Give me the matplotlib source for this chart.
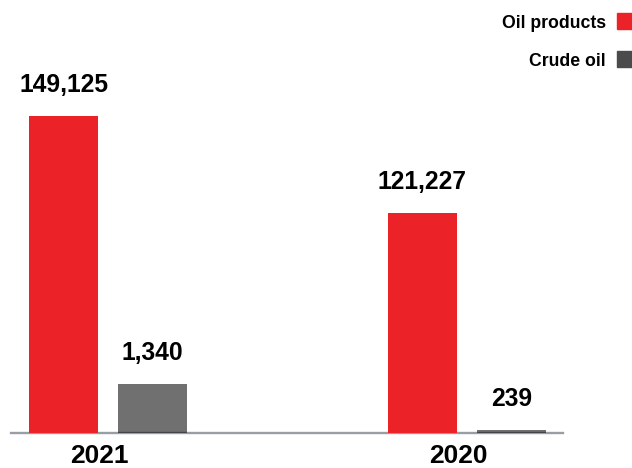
import matplotlib
matplotlib.use("Agg")
import matplotlib.pyplot as plt
from matplotlib.patches import Rectangle
import numpy as np

# Data
years = ["2021", "2020"]
oil_products = [149125, 121227]
crude_oil = [1340, 239]
series_names = ["Oil products", "Crude oil"]

RED = "#ec2229"
GREY_BAR = (0, 0, 0, 0.56)
GREY_KEY = "#4b4b4b"
AXIS_GREY = "#9b9da5"
FONT = "Liberation Sans"

plt.rcParams["font.family"] = [FONT, "DejaVu Sans"]

W, H = 632, 468
fig = plt.figure(figsize=(W / 100, H / 100), dpi=100)

ax_left, ax_right = 11 / W, 562.7 / W
ax_bottom = (H - 433) / H
ax = fig.add_axes([ax_left, ax_bottom, ax_right - ax_left, 1 - ax_bottom])
ax2 = ax.twinx()

x = np.arange(len(years))
bw = 0.1924
off = 0.124

# Oil products on the primary scale, crude oil on its own scale
ax.bar(x - off, oil_products, width=bw, color=RED, zorder=3)
ax2.bar(x + off, crude_oil, width=bw, color=GREY_BAR, zorder=3)

ax.set_xlim(-0.2713, 1.2672)
ax.set_ylim(57700, 182600)
ax2.set_ylim(167, 10530)

val_style = dict(ha="center", va="baseline", fontsize=17.7, fontweight="bold",
                 textcoords="offset points", xytext=(0, 17))
for xi, v in zip(x, oil_products):
    ax.annotate(f"{v:,}", (xi - off, v), **val_style)
for xi, v in zip(x, crude_oil):
    ax2.annotate(f"{v:,}", (xi + off, v), **val_style)

# Axes styling
for a in (ax, ax2):
    for s in ("top", "left", "right"):
        a.spines[s].set_visible(False)
    a.set_yticks([])
ax2.spines["bottom"].set_visible(False)
ax.spines["bottom"].set_color(AXIS_GREY)
ax.spines["bottom"].set_linewidth(1.7)
ax.set_xticks(x - 0.025)
ax.set_xticklabels(years, fontsize=19, fontweight="bold")
ax.tick_params(axis="x", length=0, pad=8)
ax.patch.set_visible(False)
ax2.patch.set_visible(False)

# Key in the top right corner
key_colors = [RED, GREY_KEY]
key_base = [28.3, 66.5]
key_top = [13.3, 50.7]
for name, c, yb, yt in zip(series_names, key_colors, key_base, key_top):
    fig.text(605.7 / W, 1 - yb / H, name, ha="right", va="baseline",
             fontsize=12.7, fontweight="bold")
    fig.patches.append(Rectangle((617 / W, 1 - (yt + 16) / H), 15 / W, 16 / H,
                                 transform=fig.transFigure, color=c))

fig.savefig("out.png", dpi=100)
